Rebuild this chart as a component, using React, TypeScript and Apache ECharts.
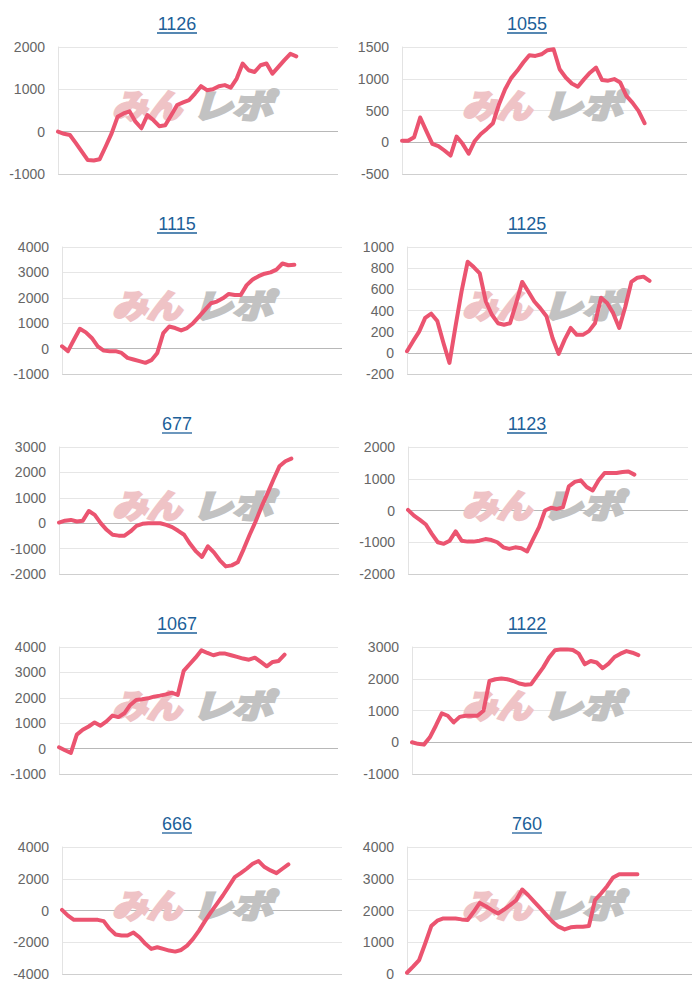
import React, { useEffect, useRef } from "react";
import * as echarts from "echarts";

// ---- data ----
const titles = ["1126", "1055", "1115", "1125", "677", "1123", "1067", "1122", "666", "760"];

const s1126 = [0, -50, -80, -270, -470, -670, -680, -650, -350, -40, 350, 430, 480, 235, 80, 390, 275, 130, 150, 390, 630, 690, 745, 900, 1075, 980, 1000, 1075, 1100, 1040, 1255, 1610, 1450, 1410, 1570, 1610, 1370, 1530, 1690, 1840, 1780];
const s1055 = [25, 25, 80, 390, 180, -25, -60, -130, -210, 90, -25, -180, 20, 130, 210, 300, 600, 835, 1010, 1125, 1255, 1370, 1360, 1385, 1450, 1465, 1150, 1020, 925, 875, 990, 1095, 1175, 980, 970, 995, 940, 730, 625, 495, 300];
const s1115 = [90, -100, 350, 780, 640, 420, 90, -80, -100, -100, -170, -365, -430, -495, -560, -455, -170, 610, 870, 810, 715, 810, 1000, 1260, 1525, 1785, 1850, 1980, 2150, 2110, 2110, 2500, 2720, 2850, 2950, 3000, 3110, 3350, 3280, 3300];
const s1125 = [15, 110, 200, 330, 370, 300, 95, -95, 250, 580, 860, 810, 750, 485, 360, 280, 265, 280, 470, 670, 580, 485, 420, 345, 140, -10, 125, 235, 170, 170, 205, 280, 520, 470, 375, 235, 435, 670, 710, 720, 680];
const s677 = [25, 100, 130, 65, 100, 480, 325, 0, -260, -455, -490, -490, -325, -105, -25, 0, 0, 0, -65, -155, -300, -455, -810, -1110, -1330, -910, -1150, -1460, -1700, -1660, -1540, -1020, -455, 65, 650, 1175, 1720, 2240, 2440, 2545];
const s1123 = [20, -160, -295, -440, -735, -1000, -1050, -950, -660, -950, -980, -980, -950, -900, -930, -1000, -1160, -1210, -1160, -1190, -1290, -900, -525, 0, 85, 50, 100, 760, 900, 950, 740, 630, 950, 1180, 1180, 1180, 1210, 1230, 1130];
const s1067 = [50, -65, -170, 550, 740, 870, 1030, 900, 1070, 1300, 1240, 1390, 1720, 1915, 1940, 1980, 2045, 2085, 2135, 2200, 2110, 3060, 3320, 3580, 3870, 3765, 3675, 3740, 3740, 3675, 3610, 3545, 3500, 3580, 3410, 3240, 3410, 3450, 3700];
const s1122 = [0, -50, -75, 155, 520, 910, 835, 625, 800, 835, 835, 835, 990, 1930, 1985, 2005, 1985, 1930, 1850, 1810, 1830, 2090, 2350, 2665, 2895, 2925, 2925, 2905, 2790, 2455, 2560, 2510, 2330, 2475, 2685, 2790, 2870, 2820, 2745];
const s666 = [40, -320, -590, -590, -590, -590, -590, -670, -1160, -1515, -1580, -1580, -1390, -1685, -2100, -2420, -2315, -2420, -2525, -2590, -2485, -2210, -1790, -1265, -670, -105, 420, 945, 1515, 2100, 2355, 2630, 2945, 3115, 2735, 2525, 2355, 2630, 2900];
const s760 = [40, 230, 440, 960, 1510, 1680, 1750, 1750, 1750, 1720, 1700, 1960, 2240, 2135, 2010, 1905, 2030, 2170, 2325, 2660, 2480, 2275, 2065, 1855, 1645, 1490, 1405, 1470, 1490, 1490, 1510, 2325, 2535, 2765, 3040, 3145, 3145, 3145, 3145];

const seriesData = [s1126, s1055, s1115, s1125, s677, s1123, s1067, s1122, s666, s760];

// y-axis ranges (tick labels are derived from these)
const yMins = [-1000, -500, -1000, -200, -2000, -2000, -1000, -1000, -4000, 0];
const yMaxs = [2000, 1500, 4000, 1000, 3000, 2000, 4000, 3000, 4000, 4000];
const yIntervals = [1000, 500, 1000, 200, 1000, 1000, 1000, 1000, 2000, 1000];

// x categories (hidden)
const categories = [
  "1", "2", "3", "4", "5", "6", "7", "8", "9", "10", "11", "12", "13", "14", "15", "16",
  "17", "18", "19", "20", "21", "22", "23", "24", "25", "26", "27", "28", "29", "30", "31", "32",
  "33", "34", "35", "36", "37", "38", "39", "40", "41", "42", "43", "44", "45", "46", "47", "48",
];

const logoLeft = "みん";
const logoRight = "レポ";

// ---- layout ----
const PANEL_W = 350;
const PANEL_H = 200;
const gridLeftOff = [58, 52, 62, 57, 59, 58, 59, 62, 62, 57];
const gridRightOff = [338, 337, 342, 342, 339, 338, 338, 342, 342, 342];
const LINE_COLOR = "#eb5470";
const TITLE_COLOR = "#1d5f99";
const FONT = "'Liberation Sans', Arial, Helvetica, sans-serif";
const CJK = "'Noto Sans CJK JP', sans-serif";

export default function App() {
  const ref = useRef<HTMLDivElement>(null);

  useEffect(() => {
    document.body.style.margin = "0";
    if (!ref.current) return;
    const chart = echarts.init(ref.current, undefined, { renderer: "svg" });

    const grids: any[] = [];
    const xAxes: any[] = [];
    const yAxes: any[] = [];
    const series: any[] = [];
    const graphics: any[] = [];

    titles.forEach((t, k) => {
      const px = (k % 2) * PANEL_W;
      const py = Math.floor(k / 2) * PANEL_H;
      const left = px + gridLeftOff[k];
      const right = 700 - (px + gridRightOff[k]);
      grids.push({ left, right, top: py + 47, height: 127 });
      xAxes.push({
        type: "category",
        gridIndex: k,
        data: categories,
        boundaryGap: false,
        axisLine: { show: false },
        axisTick: { show: false },
        axisLabel: { show: false },
        splitLine: { show: false },
      });
      const min = yMins[k];
      const max = yMaxs[k];
      const iv = yIntervals[k];
      const colors: string[] = [];
      for (let v = min, i = 0; v <= max; v += iv, i++) {
        colors.push(v === 0 ? "#b8b8b8" : i === 0 ? "#cfcfcf" : "#e6e6e6");
      }
      yAxes.push({
        type: "value",
        gridIndex: k,
        min,
        max,
        interval: iv,
        axisLine: { show: true, lineStyle: { color: "#e3e3e3", width: 1 } },
        axisTick: { show: false },
        axisLabel: {
          color: "#666",
          fontSize: 14,
          fontFamily: FONT,
          margin: 13,
          formatter: (v: number) => String(v),
        },
        splitLine: { show: true, lineStyle: { color: colors, width: 1 } },
      });
      series.push({
        type: "line",
        xAxisIndex: k,
        yAxisIndex: k,
        data: seriesData[k],
        symbol: "none",
        smooth: false,
        z: 5,
        lineStyle: { color: LINE_COLOR, width: 4, cap: "round", join: "round" },
      });

      // title
      const tw = t.length * 10;
      const cx = px + 177;
      graphics.push({
        type: "text",
        x: cx,
        y: py + 24,
        z: 10,
        style: {
          text: t,
          fill: TITLE_COLOR,
          font: `18px ${FONT}`,
          align: "center",
          verticalAlign: "middle",
        },
      });
      graphics.push({
        type: "line",
        z: 10,
        shape: { x1: cx - tw / 2, y1: py + 33, x2: cx + tw / 2, y2: py + 33 },
        style: { stroke: TITLE_COLOR, lineWidth: 1.3 },
      });

      // watermark logo
      graphics.push({
        type: "text",
        x: px + 112,
        y: py + 104,
        z: 1,
        scaleX: 1.05,
        style: {
          text: logoLeft,
          fill: "#efc3c6",
          stroke: "#efc3c6",
          lineWidth: 3,
          font: `italic bold 33px ${CJK}`,
          align: "left",
          verticalAlign: "middle",
        },
      });
      graphics.push({
        type: "text",
        x: px + 192,
        y: py + 104,
        z: 1,
        scaleX: 1.22,
        style: {
          text: logoRight,
          fill: "#c2c2c2",
          stroke: "#c2c2c2",
          lineWidth: 3,
          font: `italic bold 33px ${CJK}`,
          align: "left",
          verticalAlign: "middle",
        },
      });
    });

    chart.setOption({
      animation: false,
      backgroundColor: "#ffffff",
      grid: grids,
      xAxis: xAxes,
      yAxis: yAxes,
      series,
      graphic: { elements: graphics },
    });

    return () => chart.dispose();
  }, []);

  return <div ref={ref} style={{ width: 700, height: 1000 }} />;
}
